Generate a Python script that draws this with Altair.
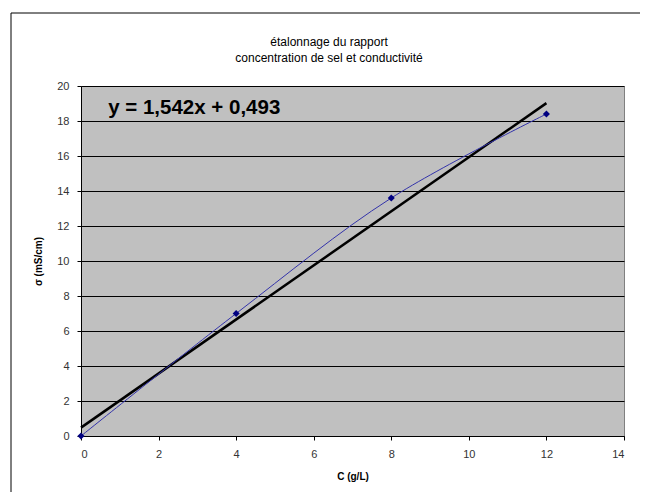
import altair as alt
import pandas as pd

# data
conc = [0, 4, 8, 12]
sigma = [0.0, 7.0, 13.6, 18.4]
title_lines = ["étalonnage du rapport", "concentration de sel et conductivité"]
equation = "y = 1,542x + 0,493"
eq_pos_x = [0.7]
eq_pos_y = [18.75]
x_ticks = [0, 2, 4, 6, 8, 10, 12, 14]
y_ticks = [0, 2, 4, 6, 8, 10, 12, 14, 16, 18, 20]

df = pd.DataFrame({"C": conc, "sigma": sigma})
eq_df = pd.DataFrame({"x": eq_pos_x, "y": eq_pos_y, "t": [equation]})
title_df = pd.DataFrame({"line": title_lines, "row": [0, 1]})

FONT = "Liberation Sans"
W, H = 543, 350

xs = alt.Scale(domain=[0, 14], nice=False, zero=False)
ys = alt.Scale(domain=[0, 20], nice=False, zero=False)

xax = alt.Axis(values=x_ticks, grid=False, title="C (g/L)", tickSize=4, tickColor="#000",
               domainColor="#000", labelFont=FONT, labelFontSize=11, labelColor="#333",
               labelPadding=8, labelOverlap=False, titleFont=FONT, titleFontSize=10,
               titleFontWeight="bold", titlePadding=12, titleColor="#000")
yax = alt.Axis(values=y_ticks, grid=True, gridColor="#000", gridWidth=1, title="σ (mS/cm)",
               tickSize=4, tickColor="#000", domainColor="#000", labelFont=FONT,
               labelFontSize=11, labelColor="#333", labelPadding=8, labelOverlap=False,
               titleFont=FONT, titleFontSize=10, titleFontWeight="bold", titlePadding=13,
               titleColor="#000")

X = alt.X("C:Q", scale=xs, axis=xax)
Y = alt.Y("sigma:Q", scale=ys, axis=yax)

base = alt.Chart(df)

frame = alt.Chart(eq_df).mark_rect(fillOpacity=0, stroke="#000", strokeWidth=1, clip=False).encode(
    x=alt.value(-70), x2=alt.value(700), y=alt.value(-73), y2=alt.value(600)
)

curve = base.mark_line(interpolate="catmull-rom", color="#3333AA", strokeWidth=1).encode(x=X, y=Y)

trend = base.transform_regression("C", "sigma", extent=[0, 12]).mark_line(
    color="#000", strokeWidth=2.5
).encode(x=X, y=Y)

pts = base.mark_point(shape="diamond", filled=True, color="#000080", size=50, opacity=1).encode(
    x=X, y=Y
)

eq = alt.Chart(eq_df).mark_text(align="left", baseline="middle", font=FONT, fontSize=20.5,
                                fontWeight="bold", color="#000").encode(
    x=alt.X("x:Q", scale=xs, axis=xax), y=alt.Y("y:Q", scale=ys, axis=yax), text="t:N"
)

title1 = alt.Chart(title_df).transform_filter("datum.row == 0").mark_text(
    align="center", baseline="middle", font=FONT, fontSize=12, color="#000"
).encode(x=alt.value(248), y=alt.value(-44), text="line:N")

title2 = alt.Chart(title_df).transform_filter("datum.row == 1").mark_text(
    align="center", baseline="middle", font=FONT, fontSize=12, color="#000"
).encode(x=alt.value(248), y=alt.value(-28), text="line:N")

chart = alt.layer(frame, trend, curve, pts, eq, title1, title2).properties(
    width=W, height=H,
    autosize=alt.AutoSizeParams(type="none"),
    padding={"left": 73, "top": 78, "right": 16, "bottom": 56},
    background="#fff",
).configure_view(fill="#C0C0C0", stroke="#808080", strokeWidth=1)

chart.save("out.html", embed_options={"renderer": "svg", "actions": False})
